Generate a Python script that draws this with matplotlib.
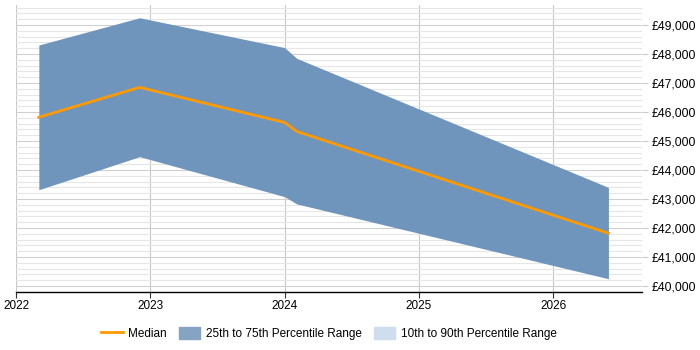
import matplotlib
matplotlib.use("Agg")
import matplotlib.pyplot as plt
import matplotlib.patches as mpatches
import matplotlib.lines as mlines
from matplotlib.ticker import FuncFormatter, MultipleLocator

plt.rcParams['font.family'] = ['Liberation Sans', 'DejaVu Sans']

# decimal years
dates = [2022.17, 2022.92, 2024.0, 2024.09, 2026.41]
p75 = [48310, 49250, 48220, 47850, 43400]
median = [45820, 46850, 45640, 45330, 41820]
p25 = [43320, 44460, 43080, 42830, 40250]
year_ticks = [2022, 2023, 2024, 2025, 2026]

fig = plt.figure(figsize=(7, 3.5), dpi=100)
ax = fig.add_axes([16 / 700, 58 / 350, 626 / 700, 287 / 350])

ax.fill_between(dates, p25, p75, color='#6f95bc', lw=0, zorder=2)
ax.plot(dates, median, color='#ff9900', lw=2, zorder=3)

ax.set_xlim(2022, 2026.66)
ax.set_ylim(39793, 49690)
ax.set_xticks(year_ticks)
ax.set_xticklabels([str(y) for y in year_ticks])
ax.yaxis.set_major_locator(MultipleLocator(1000))
ax.yaxis.set_minor_locator(MultipleLocator(200))
ax.yaxis.set_major_formatter(FuncFormatter(lambda v, p: '£{:,.0f}'.format(v)))
ax.yaxis.tick_right()
ax.tick_params(axis='y', which='major', labelsize=8.7, length=4, color='#cccccc', pad=3)
ax.tick_params(axis='y', which='minor', length=0)
ax.tick_params(axis='x', labelsize=8.5, length=4, color='#333333', pad=2)
ax.grid(True, which='major', axis='y', color='#d0d0d0', lw=0.8, zorder=0)
ax.grid(True, which='minor', axis='y', color='#e6e6e6', lw=0.8, zorder=0)
ax.grid(True, which='major', axis='x', color='#c8c8c8', lw=0.8, zorder=0)
for s in ['top', 'right', 'left']:
    ax.spines[s].set_visible(False)
ax.spines['bottom'].set_color('#000000')
ax.spines['bottom'].set_linewidth(1)

handles = [
    mlines.Line2D([], [], color='#ff9900', lw=2),
    mpatches.Patch(color='#87a3c2'),
    mpatches.Patch(color='#cfdeee'),
]
labels = ['Median', '25th to 75th Percentile Range', '10th to 90th Percentile Range']
fig.legend(handles, labels, loc='center', bbox_to_anchor=(0.47, 0.047), ncol=3,
           frameon=False, fontsize=8.5, handlelength=1.8, handleheight=1.1,
           columnspacing=1.0, handletextpad=0.5)

fig.savefig('out.png', dpi=100)
